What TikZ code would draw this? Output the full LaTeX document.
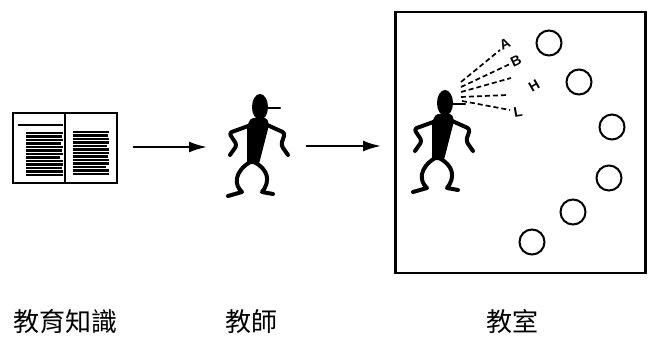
\documentclass[tikz,border=0pt]{standalone}
\usepackage{fontspec}
\setmainfont{Liberation Sans}
\newfontfamily\cjkfont{Noto Sans CJK TC}
\usetikzlibrary{arrows.meta}
\begin{document}
\begin{tikzpicture}[x=1pt,y=-1pt,
  frame/.style={draw,line width=2.4pt,inner sep=0pt},
  limb/.style={line width=4pt,line cap=round,line join=round},
  seat/.style={circle,draw,line width=2pt,minimum size=25pt,inner sep=0pt},
  flow/.style={line width=2pt,-{Latex[length=18pt,width=11pt]}},
  ray/.style={line width=1.7pt,dash pattern=on 5pt off 3pt},
  letter/.style={font=\bfseries\fontsize{14}{14}\selectfont,inner sep=0pt},
  caption/.style={font=\cjkfont\fontsize{26}{26}\selectfont,inner sep=0pt},
  textline/.style={line width=2.2pt},
  teacher/.pic={
    % head and nose
    \fill (0,0) ellipse [x radius=8, y radius=13];
    \draw[line width=2.2pt,line cap=round] (6,1) -- (20,1);
    % torso
    \fill[rounded corners=2pt] (-9,11) -- (7,11) -- (9,18) -- (-1,57) -- (-13,57) -- (-13,19) -- cycle;
    % arms
    \draw[limb,rounded corners=3pt] (-9,18) -- (-31,26) -- (-23,38) -- (-30,48);
    \draw[limb,rounded corners=3pt] (5,17) -- (25,26) -- (21,38) -- (28,48);
    % legs and feet
    \draw[limb] (-10,55) .. controls (-26,65) and (-26,78) .. (-18,85) -- (-32,89);
    \draw[limb] (-6,55) .. controls (8,62) and (11,74) .. (2,85) -- (13,87);
  }
]
\useasboundingbox (0,0) rectangle (649,338);

% book of educational knowledge
\node[frame,minimum width=104pt,minimum height=70pt] (book) at (65,148) {};
\draw[line width=2.2pt] (book.north) -- (book.south);
\draw[line width=2.8pt] (18,125) -- (63,125);
\foreach \y/\r in {133/63,136.5/62,140/63,143.5/61,147/63,150.5/62,154/63,157.5/60,161/63,164.5/63,168/62,171.5/63,175/63}
  \draw[textline] (26,\y) -- (\r,\y);
\foreach \y/\r in {132/109,135.5/108,139/109,142.5/109,146/107,149.5/109,153/109,156.5/108,160/109,163.5/109,167/106,170.5/109,174/109}
  \draw[textline] (73,\y) -- (\r,\y);

% teacher
\pic at (260,107) {teacher};

% classroom
\node[frame,minimum width=250pt,minimum height=261pt] (room) at (520.5,142.5) {};
\pic at (445,103) {teacher};

% students
\node[seat] (s1) at (549,43) {};
\node[seat] (s2) at (579,82) {};
\node[seat] (s3) at (612,127) {};
\node[seat] (s4) at (609,178) {};
\node[seat] (s5) at (573,212) {};
\node[seat] (s6) at (532,242) {};

% voice levels
\node[letter,rotate=25] (lA) at (505,44) {A};
\node[letter,rotate=25] (lB) at (516,61) {B};
\node[letter,rotate=30] (lH) at (534,86) {H};
\node[letter,rotate=10] (lL) at (518,112) {L};
\coordinate (r1s) at (461,82);  \coordinate (r1e) at (500,50);
\coordinate (r2s) at (461,87);  \coordinate (r2e) at (510,64);
\coordinate (r3s) at (461,92);  \coordinate (r3e) at (511,78);
\coordinate (r4s) at (461,97);  \coordinate (r4e) at (507,95);
\coordinate (r5s) at (462,101); \coordinate (r5e) at (510,110);
\foreach \i in {1,...,5}
  \draw[ray] (r\i s) -- (r\i e);

% flow arrows
\coordinate (a1s) at (133,147); \coordinate (a1e) at (207,147);
\coordinate (a2s) at (306,146); \coordinate (a2e) at (381,146);
\draw[flow] (a1s) -- (a1e);
\draw[flow] (a2s) -- (a2e);

% captions
\node[caption] (c1) at (65,322) {教育知識};
\node[caption] (c2) at (251,322) {教師};
\node[caption] (c3) at (512,322) {教室};
\end{tikzpicture}
\end{document}
